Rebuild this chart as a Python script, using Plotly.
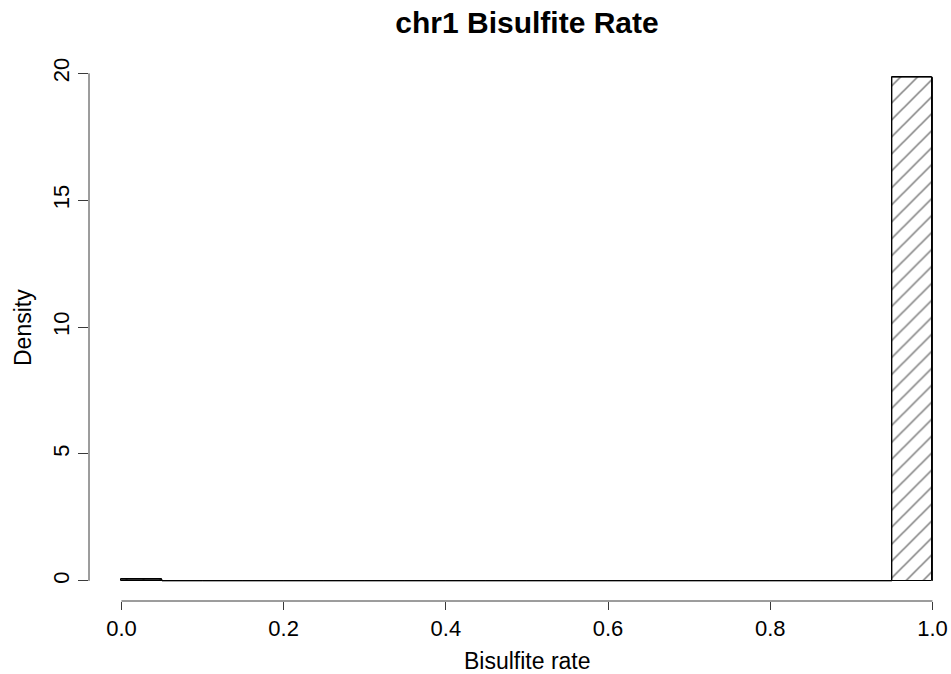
import plotly.graph_objects as go

# Histogram of per-read bisulfite conversion rate (density scale, 0.05-wide bins)
bin_left = [0.00, 0.05, 0.10, 0.15, 0.20, 0.25, 0.30, 0.35, 0.40, 0.45,
            0.50, 0.55, 0.60, 0.65, 0.70, 0.75, 0.80, 0.85, 0.90, 0.95]
bin_width = 0.05
density = [0.06, 0, 0, 0, 0, 0, 0, 0, 0, 0,
           0, 0, 0, 0, 0, 0, 0, 0, 0, 19.85]

x_ticks = [0.0, 0.2, 0.4, 0.6, 0.8, 1.0]
x_tick_text = ["0.0", "0.2", "0.4", "0.6", "0.8", "1.0"]
y_ticks = [0, 5, 10, 15, 20]
y_tick_text = ["0", "5", "10", "15", "20"]

title_text = "chr1 Bisulfite Rate"
x_title = "Bisulfite rate"
y_title = "Density"

FONT = "Liberation Sans, Arial, Helvetica, sans-serif"
INK = "#3a3a3a"

W, H = 951, 674
L, R, T, B = 89, 0, 57, 73

centers = [b + bin_width / 2 for b in bin_left]

fig = go.Figure()
fig.add_trace(go.Bar(
    x=centers,
    y=density,
    width=[bin_width] * len(centers),
    marker=dict(
        color="white",
        line=dict(color="black", width=1),
        pattern=dict(shape="/", fgcolor="black", bgcolor="white",
                     size=12, solidity=0.13),
    ),
    showlegend=False,
    hoverinfo="x+y",
))

# Outline of the histogram so empty bins still show along the baseline
edges_x = []
edges_y = []
for b, d in zip(bin_left, density):
    edges_x += [b, b, b + bin_width, b + bin_width]
    edges_y += [0, d, d, 0]
fig.add_trace(go.Scatter(
    x=edges_x, y=edges_y, mode="lines",
    line=dict(color="black", width=1),
    showlegend=False, hoverinfo="skip",
))

x_lo = -0.04
x_hi = x_lo + (W - L - R) / 811.0
y_top = max(density)
y_pad = 0.04 * y_top

fig.update_layout(
    width=W, height=H,
    margin=dict(l=L, r=R, t=T, b=B),
    paper_bgcolor="white", plot_bgcolor="white",
    bargap=0,
    font=dict(family=FONT, color="black"),
    title=dict(
        text="<b>" + title_text + "</b>",
        font=dict(family=FONT, size=30, color="black"),
        x=527 / W, xanchor="center", xref="container",
        y=1 - 22 / H, yanchor="middle", yref="container",
    ),
    xaxis=dict(
        range=[x_lo, x_hi],
        tickvals=x_ticks, ticktext=x_tick_text,
        ticks="outside", ticklen=8, tickwidth=1, tickcolor=INK,
        tickfont=dict(family=FONT, size=22, color="black"),
        showline=False, showgrid=False, zeroline=False,
        fixedrange=True,
    ),
    yaxis=dict(
        range=[-y_pad, y_top + y_pad],
        tickvals=y_ticks, ticktext=y_tick_text,
        ticks="outside", ticklen=10, tickwidth=1, tickcolor=INK,
        tickangle=-90,
        tickfont=dict(family=FONT, size=22, color="black"),
        showline=False, showgrid=False, zeroline=False,
        fixedrange=True,
    ),
    shapes=[
        dict(type="line", xref="x", yref="paper",
             x0=x_ticks[0], x1=x_ticks[-1], y0=0, y1=0,
             line=dict(color=INK, width=1)),
        dict(type="line", xref="paper", yref="y",
             x0=0, x1=0, y0=y_ticks[0], y1=y_ticks[-1],
             line=dict(color=INK, width=1)),
    ],
    annotations=[
        dict(text=x_title, xref="paper", yref="paper",
             x=(527 - L) / (W - L - R), y=-(661 - (H - B)) / (H - T - B),
             xanchor="center", yanchor="middle", showarrow=False,
             font=dict(family=FONT, size=23, color="black")),
        dict(text=y_title, xref="paper", yref="paper",
             x=-(L - 23) / (W - L - R), y=(H - B - 328) / (H - T - B),
             xanchor="center", yanchor="middle", showarrow=False,
             textangle=-90,
             font=dict(family=FONT, size=23, color="black")),
    ],
)

fig.write_html("out.html")
